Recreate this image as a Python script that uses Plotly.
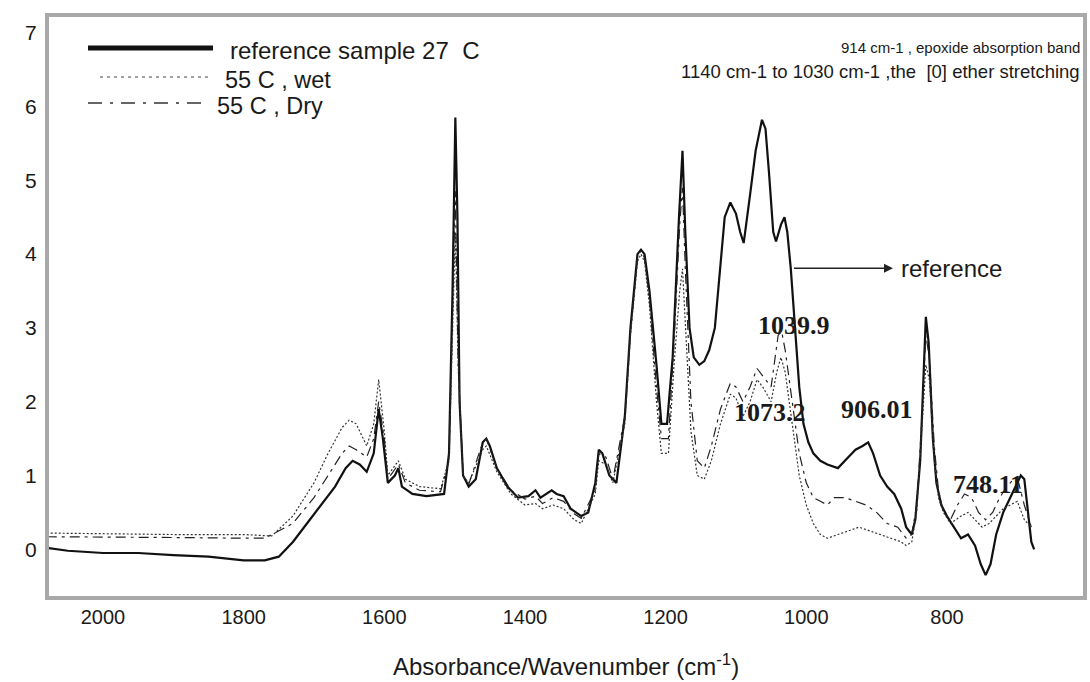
import plotly.graph_objects as go

# ---------------- data ----------------
ref_wn = [2080, 2050, 2000, 1950, 1900, 1850, 1800, 1770, 1750, 1730, 1710, 1690, 1670, 1655,
          1645, 1635, 1625, 1615, 1608, 1602, 1595, 1585, 1580, 1575, 1560, 1540, 1515, 1508,
          1503, 1499, 1496, 1493, 1488, 1480, 1470, 1460, 1455, 1450, 1440, 1425, 1410, 1395,
          1385, 1378, 1362, 1355, 1345, 1335, 1320, 1310, 1300, 1295, 1290, 1280, 1270, 1258,
          1250, 1240, 1235, 1230, 1223, 1213, 1206, 1198, 1190, 1181, 1176, 1172, 1166, 1160,
          1152, 1145, 1138, 1130, 1123, 1116, 1108, 1100, 1094, 1089, 1080, 1072, 1063, 1058, 1053,
          1047, 1043, 1036, 1031, 1027, 1022, 1016, 1010, 1004, 997, 990, 980, 970, 955, 940,
          930, 920, 912, 905, 895, 885, 875, 865, 858, 850, 845, 838, 833, 830, 826, 820, 815,
          808, 800, 790, 780, 770, 760, 752, 745, 738, 730, 720, 710, 700, 695, 690, 685, 680, 676]
ref_abs = [0.02, -0.02, -0.05, -0.05, -0.08, -0.10, -0.15, -0.15, -0.10, 0.10, 0.35, 0.60, 0.85, 1.10,
           1.20, 1.15, 1.05, 1.30, 1.90, 1.50, 0.90, 1.00, 1.10, 0.85, 0.75, 0.72, 0.75, 1.30,
           3.50, 5.85, 4.50, 2.00, 1.00, 0.85, 0.95, 1.45, 1.50, 1.40, 1.10, 0.85, 0.70, 0.72,
           0.80, 0.70, 0.80, 0.75, 0.72, 0.55, 0.45, 0.50, 0.90, 1.35, 1.30, 1.00, 0.90, 1.80,
           3.00, 4.00, 4.06, 4.00, 3.50, 2.50, 1.70, 1.70, 2.60, 4.50, 5.40, 4.30, 3.00, 2.60,
           2.50, 2.55, 2.70, 3.00, 3.80, 4.50, 4.70, 4.55, 4.30, 4.15, 4.80, 5.40, 5.82, 5.70, 5.10,
           4.30, 4.17, 4.40, 4.50, 4.30, 3.80, 3.00, 2.20, 1.70, 1.45, 1.30, 1.20, 1.15, 1.10, 1.25,
           1.35, 1.40, 1.45, 1.30, 1.00, 0.85, 0.75, 0.55, 0.30, 0.20, 0.40, 1.20, 2.50, 3.15, 2.80, 1.50, 0.90,
           0.60, 0.45, 0.30, 0.15, 0.20, 0.05, -0.20, -0.35, -0.20, 0.20, 0.50, 0.70, 0.90, 1.00, 0.95, 0.50, 0.10, 0.00]

wet_wn = [2080, 2000, 1900, 1800, 1760, 1730, 1700, 1680, 1660, 1650, 1640, 1625, 1615, 1608, 1600,
          1595, 1580, 1570, 1550, 1520, 1508, 1499, 1495, 1488, 1480, 1460, 1455, 1440, 1420, 1400,
          1385, 1375, 1360, 1345, 1330, 1320, 1300, 1295, 1285, 1275, 1258, 1250, 1240, 1235, 1230,
          1223, 1213, 1206, 1196, 1188, 1180, 1176, 1172, 1164, 1155, 1145, 1135, 1122, 1108, 1100,
          1090, 1080, 1070, 1062, 1050, 1042, 1036, 1030, 1020, 1010, 1000, 990, 980, 970, 955, 940,
          925, 910, 895, 880, 865, 858, 850, 843, 836, 830, 825, 818, 812, 805, 795, 780, 770, 760,
          750, 740, 730, 720, 710, 700, 690, 680]
wet_abs = [0.22, 0.21, 0.20, 0.20, 0.18, 0.45, 0.90, 1.30, 1.65, 1.75, 1.70, 1.40, 1.70, 2.30, 1.60,
           1.00, 1.20, 0.95, 0.85, 0.82, 1.20, 4.30, 2.50, 1.00, 0.90, 1.35, 1.40, 1.05, 0.75, 0.60,
           0.62, 0.55, 0.60, 0.55, 0.40, 0.35, 0.75, 1.20, 1.15, 0.90, 1.70, 2.90, 3.90, 4.00, 3.90,
           3.30, 2.00, 1.30, 1.30, 2.50, 3.50, 3.80, 3.00, 1.60, 1.00, 0.95, 1.20, 1.70, 2.10, 2.05,
           1.80, 2.00, 2.30, 2.20, 2.00, 2.40, 2.60, 2.40, 1.70, 1.00, 0.60, 0.35, 0.20, 0.15, 0.20, 0.25,
           0.30, 0.25, 0.20, 0.15, 0.10, 0.05, 0.10, 0.50, 1.50, 2.50, 2.30, 1.20, 0.70, 0.50, 0.35, 0.45, 0.50, 0.40,
           0.30, 0.35, 0.45, 0.55, 0.60, 0.65, 0.40, 0.30]

dry_wn = [2080, 2000, 1900, 1800, 1770, 1730, 1700, 1680, 1660, 1650, 1640, 1625, 1615, 1608, 1600,
          1595, 1580, 1570, 1550, 1520, 1508, 1499, 1495, 1488, 1480, 1460, 1455, 1440, 1420, 1400,
          1385, 1375, 1360, 1345, 1330, 1320, 1300, 1295, 1285, 1275, 1258, 1250, 1240, 1235, 1230,
          1223, 1213, 1206, 1196, 1188, 1180, 1176, 1172, 1164, 1155, 1145, 1135, 1122, 1108, 1100,
          1090, 1080, 1070, 1062, 1050, 1040, 1035, 1030, 1020, 1010, 1000, 990, 980, 970, 960, 945,
          930, 915, 900, 885, 870, 858, 850, 843, 836, 830, 825, 818, 812, 805, 795, 785, 775, 765,
          755, 745, 735, 725, 715, 705, 698, 690, 680]
dry_abs = [0.17, 0.17, 0.16, 0.15, 0.15, 0.35, 0.70, 1.00, 1.30, 1.40, 1.35, 1.25, 1.50, 2.00, 1.50,
           0.95, 1.15, 0.90, 0.80, 0.78, 1.20, 4.85, 2.50, 1.00, 0.88, 1.45, 1.50, 1.10, 0.80, 0.68,
           0.72, 0.62, 0.70, 0.65, 0.48, 0.42, 0.80, 1.30, 1.25, 0.95, 1.80, 2.95, 3.95, 4.05, 3.95,
           3.40, 2.20, 1.50, 1.50, 2.80, 4.40, 4.90, 3.80, 2.00, 1.20, 1.10, 1.40, 1.90, 2.25, 2.20,
           2.00, 2.20, 2.45, 2.35, 2.20, 2.90, 2.95, 2.70, 2.00, 1.30, 0.90, 0.70, 0.65, 0.60, 0.70, 0.70,
           0.65, 0.60, 0.50, 0.35, 0.30, 0.15, 0.20, 0.60, 1.70, 2.90, 2.60, 1.40, 0.80, 0.50, 0.40, 0.60, 0.75, 0.70,
           0.50, 0.40, 0.50, 0.70, 0.85, 0.95, 0.90, 0.60, 0.30]

x_ticks = [2000, 1800, 1600, 1400, 1200, 1000, 800]
y_ticks = [0, 1, 2, 3, 4, 5, 6, 7]

series_names = ["reference sample 27  C", "55 C , wet", "55 C , Dry"]
peak_labels = ["1039.9", "1073.2", "906.01", "748.11"]
peak_pos_wn = [1017, 1052, 900, 742]
peak_pos_abs = [3.03, 1.85, 1.9, 0.88]
notes = ["914 cm-1 , epoxide absorption band", "1140 cm-1 to 1030 cm-1 ,the  [0] ether stretching"]

# ---------------- figure ----------------
W, H = 1090, 682
L, R, T, B = 47, 5, 15, 84
pw, ph = W - L - R, H - T - B


def px(xp):
    return (xp - L) / pw


def py(yp):
    return (H - B - yp) / ph


fig = go.Figure()
fig.add_trace(go.Scatter(x=ref_wn, y=ref_abs, mode="lines", name=series_names[0],
                         line=dict(color="#111111", width=2.2)))
fig.add_trace(go.Scatter(x=wet_wn, y=wet_abs, mode="lines", name=series_names[1],
                         line=dict(color="#333333", width=1.2, dash="2px,2px")))
fig.add_trace(go.Scatter(x=dry_wn, y=dry_abs, mode="lines", name=series_names[2],
                         line=dict(color="#222222", width=1.2, dash="10px,5px,3px,5px")))

font_main = "Liberation Sans, Arial, sans-serif"

fig.update_layout(
    width=W, height=H, margin=dict(l=L, r=R, t=T, b=B),
    paper_bgcolor="white", plot_bgcolor="white", showlegend=False,
    font=dict(family=font_main, color="#1a1a1a"),
    xaxis=dict(range=[2079.6, 603.7], tickvals=x_ticks, ticktext=[str(v) for v in x_ticks],
               showgrid=False, zeroline=False, showline=False, ticks="outside", ticklen=1,
               tickcolor="rgba(0,0,0,0)", tickfont=dict(size=20, family=font_main, color="#1a1a1a")),
    yaxis=dict(range=[-0.66, 7.24], tickvals=y_ticks, ticktext=[str(v) for v in y_ticks],
               showgrid=False, zeroline=False, showline=False, ticks="outside", ticklen=5,
               tickcolor="rgba(0,0,0,0)", tickfont=dict(size=21, family=font_main, color="#1a1a1a")),
)

shapes = [dict(type="rect", xref="paper", yref="paper", x0=0, x1=1, y0=0, y1=1,
               line=dict(color="#a9a9a9", width=4))]
# legend samples
shapes.append(dict(type="line", xref="paper", yref="paper", x0=px(88), x1=px(213), y0=py(48), y1=py(48),
                   line=dict(color="#111111", width=5)))
shapes.append(dict(type="line", xref="paper", yref="paper", x0=px(100), x1=px(208), y0=py(77), y1=py(77),
                   line=dict(color="#444444", width=1.2, dash="3px,4px")))
shapes.append(dict(type="line", xref="paper", yref="paper", x0=px(88), x1=px(207), y0=py(103), y1=py(103),
                   line=dict(color="#333333", width=1.5, dash="14px,8px,3px,8px")))
fig.update_layout(shapes=shapes)

ann = []
ann.append(dict(xref="paper", yref="paper", x=px(228), y=py(50), text=series_names[0], showarrow=False,
                xanchor="left", yanchor="middle", font=dict(size=24, family=font_main, color="#1a1a1a")))
ann.append(dict(xref="paper", yref="paper", x=px(223), y=py(80), text=series_names[1], showarrow=False,
                xanchor="left", yanchor="middle", font=dict(size=23.5, family=font_main, color="#1a1a1a")))
ann.append(dict(xref="paper", yref="paper", x=px(215), y=py(106), text=series_names[2], showarrow=False,
                xanchor="left", yanchor="middle", font=dict(size=23.5, family=font_main, color="#1a1a1a")))
# notes
ann.append(dict(xref="paper", yref="paper", x=px(1082), y=py(48), text=notes[0], showarrow=False,
                xanchor="right", yanchor="middle", font=dict(size=15, family=font_main, color="#1a1a1a")))
ann.append(dict(xref="paper", yref="paper", x=px(1082), y=py(71), text=notes[1], showarrow=False,
                xanchor="right", yanchor="middle", font=dict(size=18.5, family=font_main, color="#1a1a1a")))
# arrow + "reference"
ann.append(dict(x=876.7, y=3.81, xref="x", yref="y", text=" ", showarrow=True, arrowhead=2, arrowsize=1.2,
                arrowwidth=1.5, arrowcolor="#222222", ax=-101, ay=0, font=dict(size=4)))
ann.append(dict(x=868, y=3.81, xref="x", yref="y", text="reference", showarrow=False, xanchor="left",
                yanchor="middle", font=dict(size=24, family=font_main, color="#1a1a1a")))
# peak labels
for t, xw, ya in zip(peak_labels, peak_pos_wn, peak_pos_abs):
    ann.append(dict(x=xw, y=ya, xref="x", yref="y", text="<b>" + t + "</b>", showarrow=False,
                    xanchor="center", yanchor="middle",
                    font=dict(size=26, family="Liberation Serif, Times New Roman, serif", color="#1a1a1a")))
# axis title
ann.append(dict(xref="paper", yref="paper", x=px(566), y=py(665), text="Absorbance/Wavenumber (cm<sup>-1</sup>)",
                showarrow=False, xanchor="center", yanchor="middle",
                font=dict(size=24, family=font_main, color="#1a1a1a")))
fig.update_layout(annotations=ann)

fig.write_html("out.html", config={"displayModeBar": False},
               post_script="document.body.style.margin='0';document.body.style.overflow='hidden';")
